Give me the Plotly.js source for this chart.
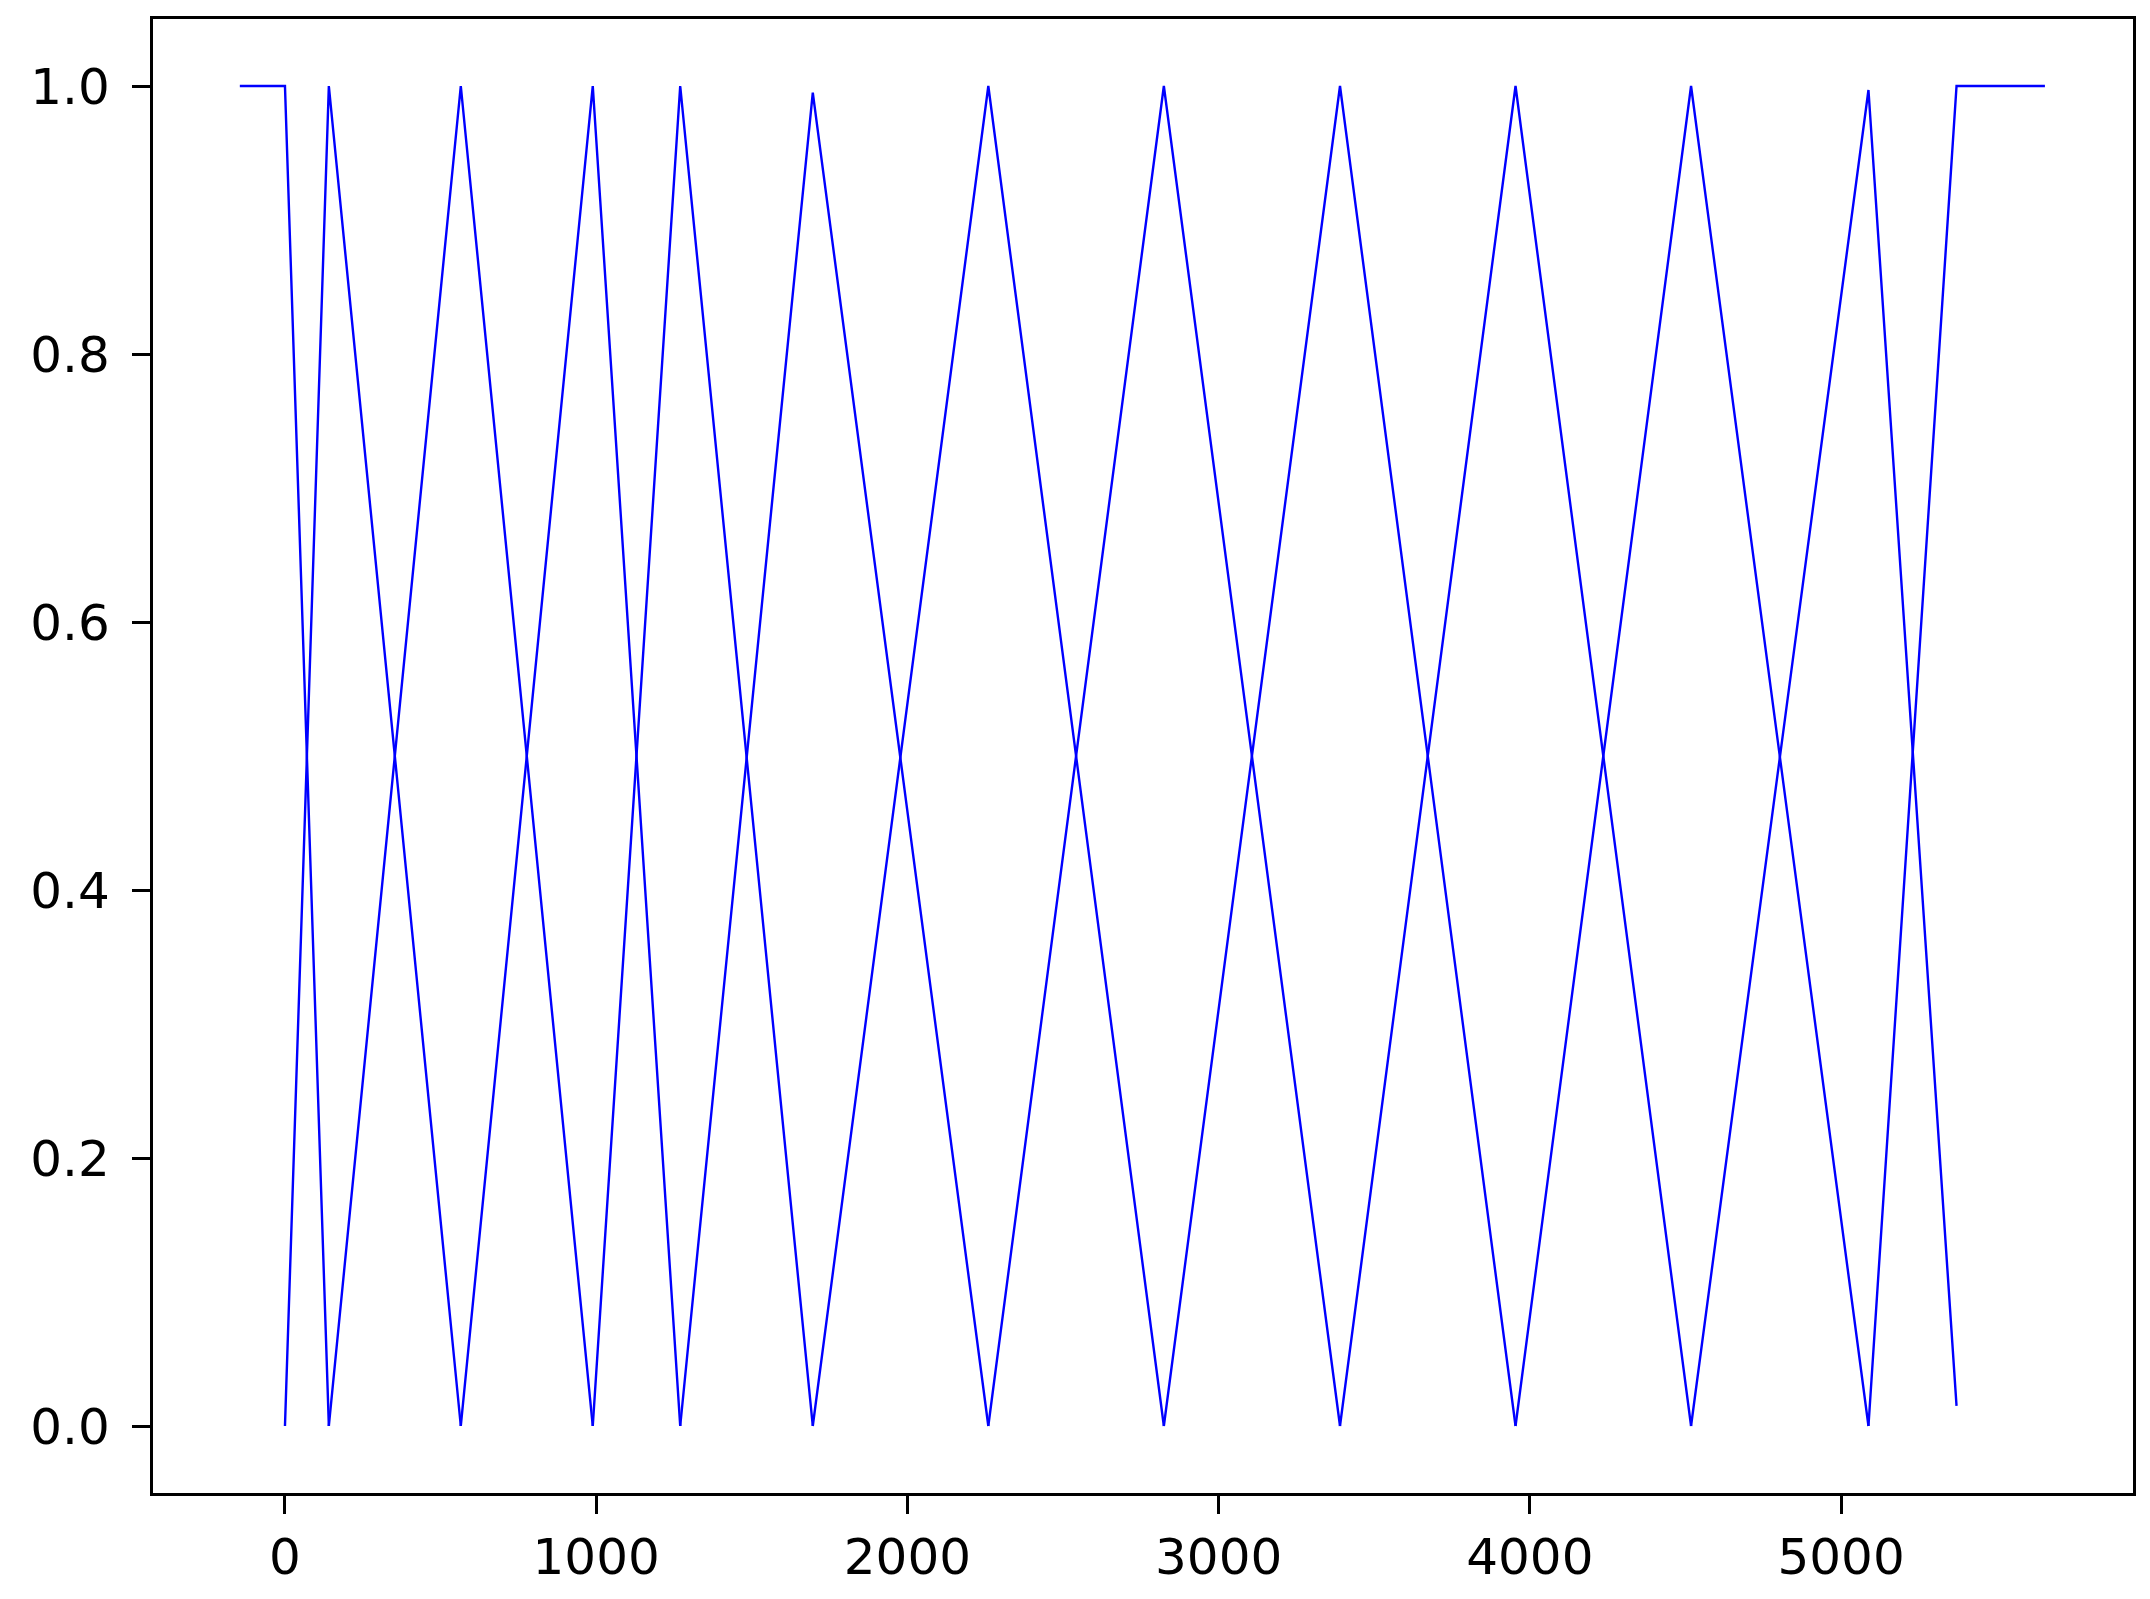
<!DOCTYPE html>
<html>
<head>
<meta charset="utf-8">
<script src="https://cdn.plot.ly/plotly-3.0.1.min.js"></script>
<style>
  html, body { margin: 0; padding: 0; background: #fff; }
  #chart { width: 2150px; height: 1599px; }
</style>
</head>
<body>
<div id="chart"></div>
<script>
// membership functions, one polyline each (x = breakpoints, y = degree)
const mfX = [
    [-145, 0, 141],
    [0, 141, 565],
    [141, 565, 989],
    [565, 989, 1270],
    [989, 1270, 1696],
    [1270, 1696, 2260],
    [1696, 2260, 2824],
    [2260, 2824, 3390],
    [2824, 3390, 3954],
    [3390, 3954, 4518],
    [3954, 4518, 5088],
    [4518, 5088, 5371],
    [5088, 5371, 5655]
];
const mfY = [
    [1, 1, 0],
    [0, 1, 0],
    [0, 1, 0],
    [0, 1, 0],
    [0, 1, 0],
    [0, 0.995, 0],
    [0, 1, 0],
    [0, 1, 0],
    [0, 1, 0],
    [0, 1, 0],
    [0, 1, 0],
    [0, 0.997, 0.015],
    [0, 1, 1]
];
const xTicks = [0, 1000, 2000, 3000, 4000, 5000];
const yTicks = [0.0, 0.2, 0.4, 0.6, 0.8, 1.0];

const traces = mfX.map((xs, i) => ({
    x: xs,
    y: mfY[i],
    type: 'scatter',
    mode: 'lines',
    line: {color: '#0000ff', width: 2.4},
    hoverinfo: 'skip',
    showlegend: false
}));

const axisStyle = {
    showgrid: false,
    zeroline: false,
    showline: true,
    mirror: true,
    linecolor: '#000',
    linewidth: 3.2,
    ticks: 'outside',
    ticklen: 18,
    tickwidth: 3,
    tickcolor: '#000',
    tickfont: {family: 'DejaVu Sans', size: 50, color: '#000'}
};

const layout = {
    width: 2150,
    height: 1599,
    paper_bgcolor: '#fff',
    plot_bgcolor: '#fff',
    margin: {l: 153, r: 17, t: 19, b: 106},
    xaxis: Object.assign({}, axisStyle, {
        range: [-424, 5938],
        tickvals: xTicks,
        ticktext: xTicks.map(v => String(v))
    }),
    yaxis: Object.assign({}, axisStyle, {
        range: [-0.05, 1.05],
        tickvals: yTicks,
        ticktext: yTicks.map(v => v.toFixed(1)),
        ticklabelstandoff: 12
    })
};

Plotly.newPlot('chart', traces, layout, {staticPlot: true});
</script>
</body>
</html>
